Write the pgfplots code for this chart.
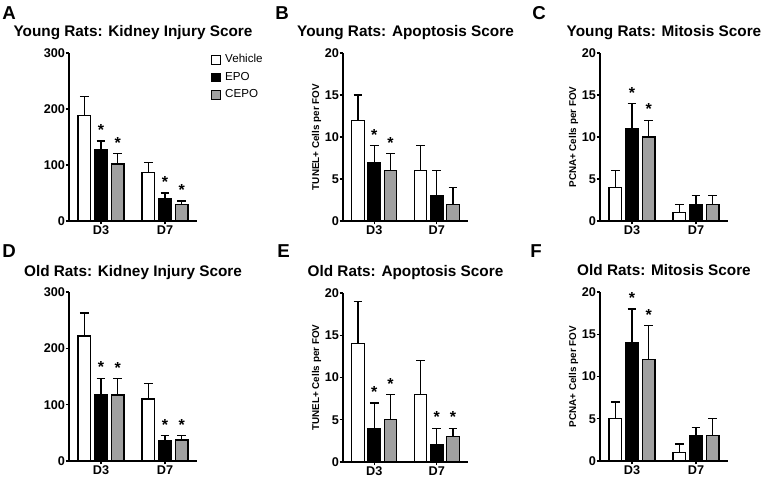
\documentclass[border=0pt]{standalone}
\usepackage{fontspec}
\setmainfont{Liberation Sans}
\usepackage{pgfplots}
\pgfplotsset{compat=1.18}
\definecolor{cepo}{RGB}{160,160,160}
\pgfplotsset{
 panel/.style={
  scale only axis, clip=false,
  axis x line*=bottom, axis y line*=left,
  axis line style={line width=1.3pt},
  xmin=-0.5, xmax=1.5, ymin=0,
  xtick={0,1}, xticklabels={D3,D7},
  tick align=outside, major tick length=2.5pt,
  tick style={line width=1pt, black},
  /pgf/number format/assume math mode=true,
  ticklabel style={font=\bfseries\fontsize{9.5}{10}\selectfont},
  xticklabel style={inner sep=1pt},
  yticklabel style={inner sep=0.3pt},
  title style={font=\bfseries\fontsize{11.5}{13}\selectfont, anchor=base, at={(0.5,1)}, yshift=6pt, inner sep=0pt},
  ylabel style={font=\bfseries\fontsize{7.4}{8}\selectfont, yshift=-1pt},
  legend image code/.code={\draw[line width=0.8pt] (0pt,-3.3pt) rectangle (6.6pt,3.3pt);},
 },
 bars/.style={ybar, bar width=0.2, bar shift=0pt, draw=black, line width=1pt,
   error bars/y dir=plus, error bars/y explicit,
   error bars/error bar style={line width=1pt, black},
   error bars/error mark options={line width=1pt, mark size=3.3pt, rotate=90, black}},
 stars/.style={draw=none, mark=none, forget plot, nodes near coords={*},
   every node near coord/.append style={anchor=base, yshift=4pt, font=\bfseries\fontsize{12}{12}\selectfont, inner sep=0pt}},
}
\begin{document}
\begin{tikzpicture}
\useasboundingbox (0,0) rectangle (571.5pt,357.75pt);
% panel letters
\tikzset{pl/.style={anchor=base west, inner sep=0pt, font=\bfseries\fontsize{14}{16}\selectfont}}
\node[pl] at (1.5pt,342.75pt) {A};
\node[pl] at (206.25pt,342.75pt) {B};
\node[pl] at (399pt,342.75pt) {C};
\node[pl] at (1.5pt,164.25pt) {D};
\node[pl] at (207.75pt,164.25pt) {E};
\node[pl] at (397.5pt,164.25pt) {F};

% A
\begin{axis}[panel, at={(51.75pt,192pt)}, anchor=south west, width=96pt, height=126pt,
  ymax=300, ytick={0,100,200,300}, title={Young Rats: Kidney Injury Score},
  legend style={at={(1.105,1.0)}, anchor=north west, draw=none, fill=none, inner sep=0pt,
    font=\fontsize{8.7}{10}\selectfont, row sep=3pt,
    nodes={inner sep=1pt, text height=6.3pt, text depth=1.8pt}},
  legend cell align=left]
\addplot[fill=white, bars] coordinates {(-0.26,188) +- (0,34) (0.74,87) +- (0,17)};
\addplot[fill=black, bars] coordinates {(0,128) +- (0,15) (1,40) +- (0,10)};
\addplot[fill=cepo, bars] coordinates {(0.26,102) +- (0,18) (1.26,30) +- (0,6)};
\legend{\hspace{2.5pt}Vehicle,\hspace{2.5pt}EPO,\hspace{2.5pt}CEPO}
\addplot[stars] coordinates {(0,143) (0.26,120) (1,50) (1.26,36)};
\end{axis}

% B
\begin{axis}[panel, at={(257.25pt,192pt)}, anchor=south west, width=93.75pt, height=126pt,
  ymax=20, ytick={0,5,10,15,20}, title={Young Rats: Apoptosis Score},
  ylabel={TUNEL+ Cells per FOV}]
\addplot[fill=white, bars] coordinates {(-0.26,12) +- (0,3) (0.74,6) +- (0,3)};
\addplot[fill=black, bars] coordinates {(0,7) +- (0,2) (1,3) +- (0,3)};
\addplot[fill=cepo, bars] coordinates {(0.26,6) +- (0,2) (1.26,2) +- (0,2)};
\addplot[stars] coordinates {(0,9) (0.26,8)};
\end{axis}

% C
\begin{axis}[panel, at={(450pt,192pt)}, anchor=south west, width=96pt, height=126pt,
  ymax=20, ytick={0,5,10,15,20}, title={Young Rats: Mitosis Score},
  ylabel={PCNA+ Cells per FOV}]
\addplot[fill=white, bars] coordinates {(-0.26,4) +- (0,2) (0.74,1) +- (0,1)};
\addplot[fill=black, bars] coordinates {(0,11) +- (0,3) (1,2) +- (0,1)};
\addplot[fill=cepo, bars] coordinates {(0.26,10) +- (0,2) (1.26,2) +- (0,1)};
\addplot[stars] coordinates {(0,14) (0.26,12)};
\end{axis}

% D
\begin{axis}[panel, at={(51.75pt,12pt)}, anchor=south west, width=96pt, height=126.75pt,
  ymax=300, ytick={0,100,200,300}, title={Old Rats: Kidney Injury Score}]
\addplot[fill=white, bars] coordinates {(-0.26,222) +- (0,41) (0.74,110) +- (0,27)};
\addplot[fill=black, bars] coordinates {(0,118) +- (0,29) (1,36) +- (0,9)};
\addplot[fill=cepo, bars] coordinates {(0.26,117) +- (0,29) (1.26,37) +- (0,8)};
\addplot[stars] coordinates {(0,147) (0.26,146) (1,45) (1.26,45)};
\end{axis}

% E
\begin{axis}[panel, at={(257.25pt,11.25pt)}, anchor=south west, width=93.75pt, height=126.75pt,
  ymax=20, ytick={0,5,10,15,20}, title={Old Rats: Apoptosis Score},
  ylabel={TUNEL+ Cells per FOV}]
\addplot[fill=white, bars] coordinates {(-0.26,14) +- (0,5) (0.74,8) +- (0,4)};
\addplot[fill=black, bars] coordinates {(0,4) +- (0,3) (1,2) +- (0,2)};
\addplot[fill=cepo, bars] coordinates {(0.26,5) +- (0,3) (1.26,3) +- (0,1)};
\addplot[stars] coordinates {(0,7) (0.26,8) (1,4) (1.26,4)};
\end{axis}

% F
\begin{axis}[panel, at={(450pt,12pt)}, anchor=south west, width=96pt, height=126.75pt,
  ymax=20, ytick={0,5,10,15,20}, title={Old Rats: Mitosis Score},
  ylabel={PCNA+ Cells per FOV}]
\addplot[fill=white, bars] coordinates {(-0.26,5) +- (0,2) (0.74,1) +- (0,1)};
\addplot[fill=black, bars] coordinates {(0,14) +- (0,4) (1,3) +- (0,1)};
\addplot[fill=cepo, bars] coordinates {(0.26,12) +- (0,4) (1.26,3) +- (0,2)};
\addplot[stars] coordinates {(0,18) (0.26,16)};
\end{axis}
\end{tikzpicture}
\end{document}
